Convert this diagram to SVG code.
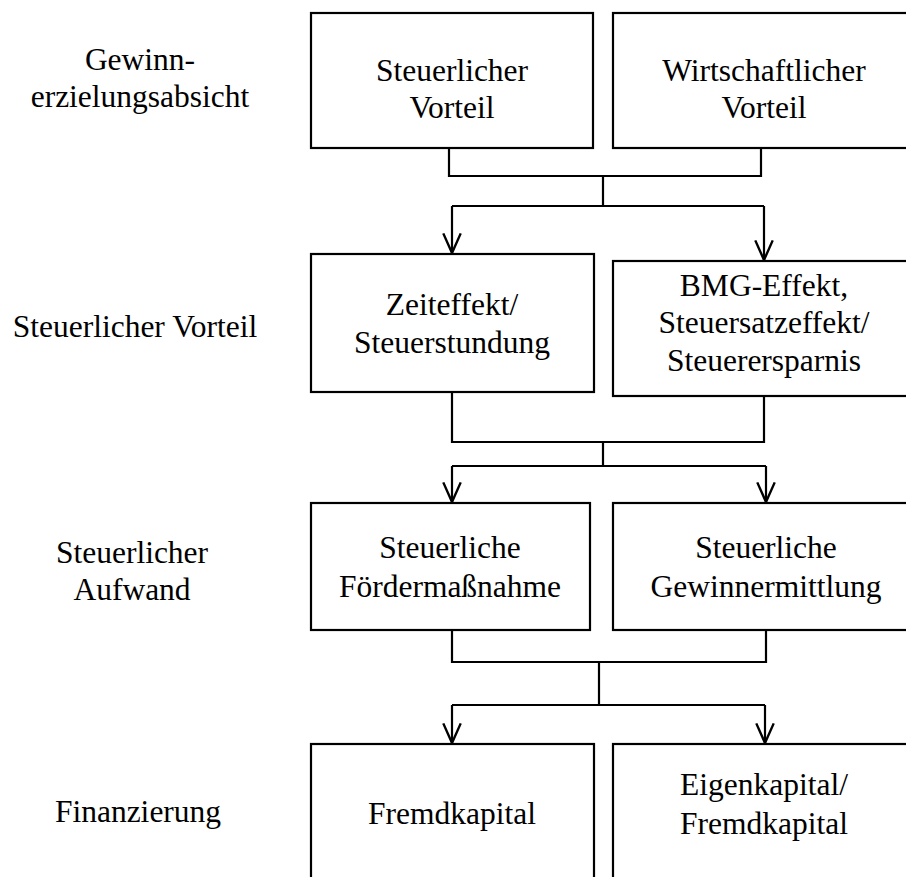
<svg xmlns="http://www.w3.org/2000/svg" width="906" height="877" viewBox="0 0 906 877">
<defs>
<style>
.box{fill:#fff;stroke:#000;stroke-width:2.2}
.ln{fill:none;stroke:#000;stroke-width:2.2}
text{font-family:"Liberation Serif","Times New Roman",serif;font-size:31.5px;fill:#000;text-anchor:middle}
</style>
<marker id="arr" markerWidth="20" markerHeight="24" refX="9" refY="20" orient="0" markerUnits="userSpaceOnUse" viewBox="0 0 18 22">
<path d="M1,2 L9,20 L17,2" fill="none" stroke="#000" stroke-width="2.2"/>
</marker>
</defs>
<rect width="906" height="877" fill="#fff"/>
<g id="labels">
<text x="140" y="70">Gewinn-</text>
<text x="140" y="107">erzielungsabsicht</text>
<text x="135" y="337">Steuerlicher Vorteil</text>
<text x="132" y="563">Steuerlicher</text>
<text x="132" y="600">Aufwand</text>
<text x="138" y="822">Finanzierung</text>
</g>
<g id="connectors">
<path class="ln" d="M449,148 V176 H761 V148 M603,176 V206 M452,206 H764"/>
<path class="ln" d="M452,206 V253" marker-end="url(#arr)"/>
<path class="ln" d="M764,206 V260" marker-end="url(#arr)"/>
<path class="ln" d="M452,392 V442 H764 V396 M603,442 V466 M452,466 H766"/>
<path class="ln" d="M452,466 V502" marker-end="url(#arr)"/>
<path class="ln" d="M766,466 V502" marker-end="url(#arr)"/>
<path class="ln" d="M452,630 V662 H766 V630 M599,662 V705 M452,705 H765"/>
<path class="ln" d="M452,705 V743" marker-end="url(#arr)"/>
<path class="ln" d="M765,705 V743" marker-end="url(#arr)"/>
</g>
<g id="n1"><rect class="box" x="311" y="13" width="282" height="135"/><text x="452" y="81">Steuerlicher</text><text x="452" y="118">Vorteil</text></g>
<g id="n2"><rect class="box" x="613" y="13" width="302" height="135"/><text x="764" y="81">Wirtschaftlicher</text><text x="764" y="118">Vorteil</text></g>
<g id="n3"><rect class="box" x="311" y="254" width="283" height="138"/><text x="452" y="315">Zeiteffekt/</text><text x="452" y="353">Steuerstundung</text></g>
<g id="n4"><rect class="box" x="613" y="261" width="302" height="135"/><text x="764" y="296">BMG-Effekt,</text><text x="764" y="333">Steuersatzeffekt/</text><text x="764" y="371">Steuerersparnis</text></g>
<g id="n5"><rect class="box" x="311" y="503" width="279" height="127"/><text x="450" y="558">Steuerliche</text><text x="450" y="597">Fördermaßnahme</text></g>
<g id="n6"><rect class="box" x="613" y="503" width="302" height="127"/><text x="766" y="558">Steuerliche</text><text x="766" y="597">Gewinnermittlung</text></g>
<g id="n7"><rect class="box" x="311" y="744" width="283" height="150"/><text x="452" y="824">Fremdkapital</text></g>
<g id="n8"><rect class="box" x="613" y="744" width="302" height="150"/><text x="764" y="795">Eigenkapital/</text><text x="764" y="834">Fremdkapital</text></g>
</svg>
